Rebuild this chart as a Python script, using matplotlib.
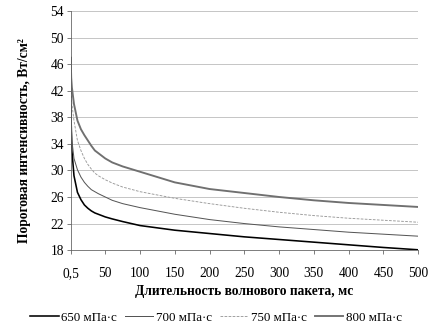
import numpy as np
import matplotlib
matplotlib.use('Agg')
import matplotlib.pyplot as plt

plt.rcParams['font.family'] = ['Liberation Serif', 'DejaVu Serif']

# Duration of the wave packet, ms
t = [0.5, 1, 2, 5, 10, 15, 20, 25, 30, 35, 40, 50, 60, 75, 100, 150, 200, 250, 300, 350, 400, 450, 500]

# Threshold intensity, W/cm^2
i650 = [47.0, 37.0, 33.0, 29.2, 26.7, 25.6, 24.8, 24.3, 23.9, 23.6, 23.4, 23.0, 22.7, 22.3, 21.7,
        21.0, 20.5, 20.0, 19.6, 19.2, 18.8, 18.4, 18.05]
i700 = [42.0, 37.0, 34.5, 31.8, 30.1, 29.0, 28.2, 27.6, 27.1, 26.8, 26.5, 26.0, 25.5, 25.0, 24.4,
        23.4, 22.6, 22.0, 21.5, 21.1, 20.7, 20.4, 20.1]
i750 = [44.0, 42.0, 40.0, 37.5, 34.5, 33.0, 31.8, 30.9, 30.2, 29.6, 29.2, 28.6, 28.1, 27.5, 26.8,
        25.8, 25.0, 24.3, 23.7, 23.2, 22.8, 22.5, 22.2]
i800 = [46.0, 44.0, 42.5, 40.0, 37.5, 36.2, 35.3, 34.5, 33.7, 33.0, 32.6, 31.8, 31.2, 30.6, 29.8,
        28.2, 27.2, 26.6, 26.0, 25.5, 25.1, 24.8, 24.5]

labels = ['650 мПа·с', '700 мПа·с', '750 мПа·с', '800 мПа·с']
xticks = [0.5, 50, 100, 150, 200, 250, 300, 350, 400, 450, 500]
xticklabels = ['0,5', '50', '100', '150', '200', '250', '300', '350', '400', '450', '500']
yticks = [18, 22, 26, 30, 34, 38, 42, 46, 50, 54]

fig = plt.figure(figsize=(6, 4.5), dpi=72)
ax = fig.add_axes([0.164, 0.228, 0.804, 0.738])

ax.plot(t, i650, color='black', lw=1.6, label=labels[0])
ax.plot(t, i700, color='#555555', lw=1.0, label=labels[1])
ax.plot(t, i750, color='#999999', lw=0.9, ls=(0, (3, 1.5)), label=labels[2])
ax.plot(t, i800, color='#707070', lw=1.9, label=labels[3])

ax.set_xlim(0.5, 500)
ax.set_ylim(18, 54)
ax.set_xticks(xticks)
ax.set_xticklabels(xticklabels)
ax.set_yticks(yticks)
ax.yaxis.grid(True, color='#c0c0c0', lw=0.9)
ax.set_axisbelow(True)
for s in ['top', 'right']:
    ax.spines[s].set_visible(False)
ax.spines['left'].set_color('#606060')
ax.spines['bottom'].set_color('#606060')
ax.tick_params(axis='x', direction='out', length=4, color='#606060', pad=13, labelsize=13.5)
ax.tick_params(axis='y', direction='out', length=4, color='#606060', pad=3, labelsize=13.5)

ax.set_xlabel('Длительность волнового пакета, мс', fontsize=13.5, fontweight='bold', labelpad=5)
ax.set_ylabel('Пороговая интенсивность, Вт/см²', fontsize=13.5, fontweight='bold')
ax.yaxis.set_label_coords(-0.115, 0.46)

fig.legend(loc='lower center', bbox_to_anchor=(0.5, -0.035), ncol=4, frameon=False,
           fontsize=13, handlelength=2.2, columnspacing=0.6, handletextpad=0.2)

fig.savefig('out.png', dpi=72)
